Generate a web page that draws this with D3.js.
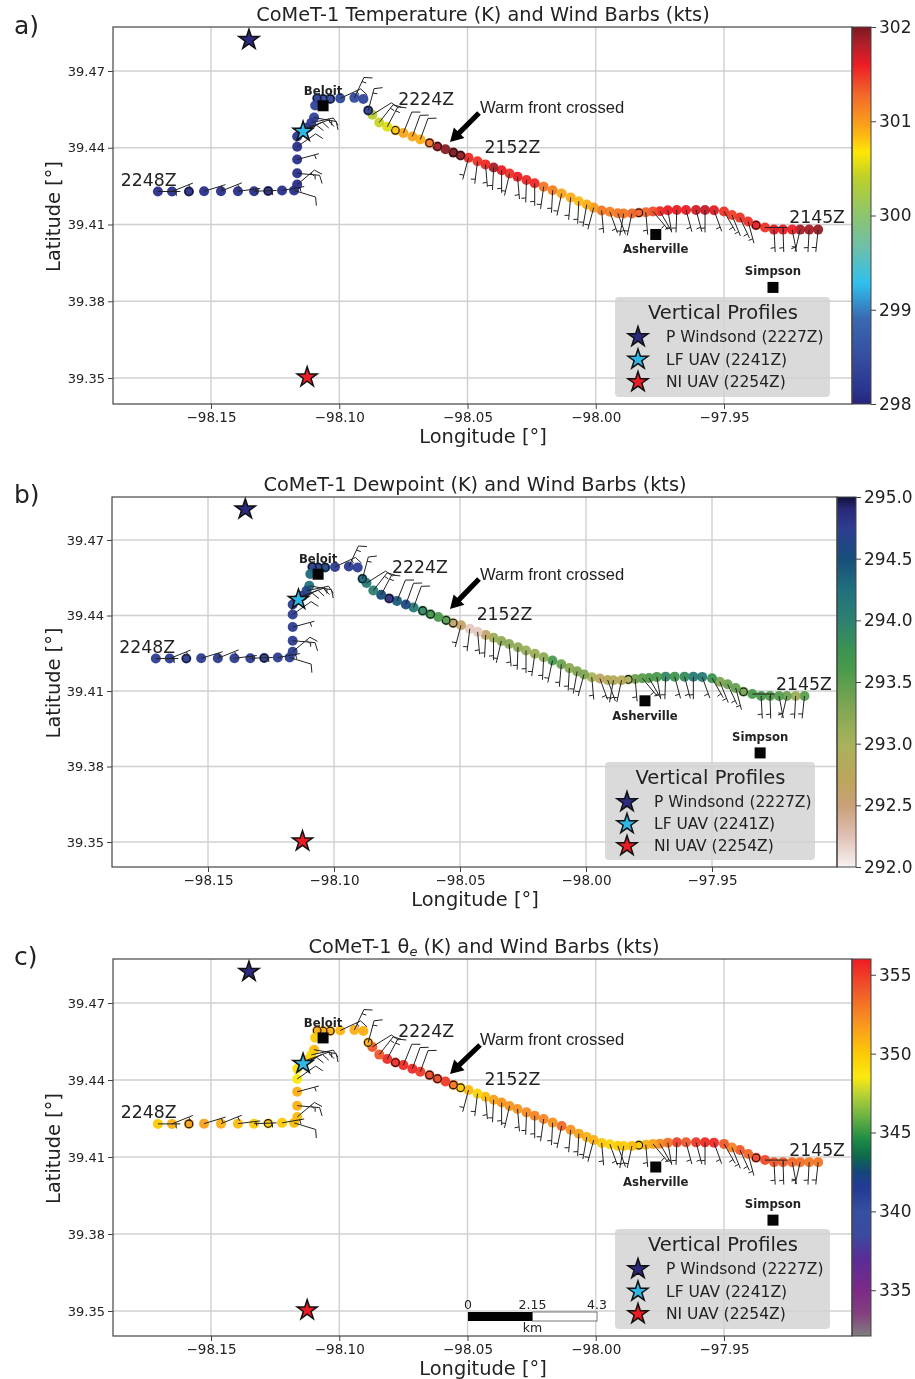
<!DOCTYPE html>
<html>
<head>
<meta charset="utf-8">
<title>CoMeT-1 transect</title>
<script src="https://cdnjs.cloudflare.com/ajax/libs/d3/7.8.5/d3.min.js"></script>
<style>
body { margin: 0; background: #fff; }
svg { display: block; filter: blur(0.35px); }
text { font-family: "DejaVu Sans", sans-serif; fill: #222; }
</style>
</head>
<body>
<div id="chart"></div>
<script>
// track, from 2145Z (east end) to 2248Z (west end)
var lon = [-97.9133,-97.9168,-97.9203,-97.9234,-97.9270,-97.9305,-97.9340,-97.9375,-97.9406,-97.9438,-97.9469,-97.9500,-97.9539,-97.9574,-97.9609,-97.9648,-97.9684,-97.9719,-97.9750,-97.9777,-97.9805,-97.9832,-97.9859,-97.9891,-97.9914,-97.9945,-97.9977,-98.0008,-98.0035,-98.0066,-98.0098,-98.0133,-98.0168,-98.0203,-98.0238,-98.0270,-98.0305,-98.0336,-98.0367,-98.0398,-98.0430,-98.0461,-98.0496,-98.0527,-98.0555,-98.0586,-98.0617,-98.0648,-98.0684,-98.0715,-98.0750,-98.0781,-98.0813,-98.0844,-98.0871,-98.0887,-98.0906,-98.0941,-98.0996,-98.1035,-98.1063,-98.1086,-98.1094,-98.1098,-98.1109,-98.1125,-98.1145,-98.1164,-98.1164,-98.1164,-98.1164,-98.1164,-98.1176,-98.1223,-98.1277,-98.1332,-98.1395,-98.1461,-98.1527,-98.1586,-98.1652,-98.1707];
var lat = [39.4080,39.4080,39.4080,39.4080,39.4080,39.4080,39.4088,39.4097,39.4112,39.4127,39.4137,39.4151,39.4156,39.4157,39.4157,39.4157,39.4157,39.4156,39.4152,39.4151,39.4148,39.4146,39.4143,39.4143,39.4144,39.4150,39.4155,39.4166,39.4178,39.4191,39.4206,39.4221,39.4234,39.4248,39.4261,39.4274,39.4287,39.4299,39.4312,39.4323,39.4335,39.4347,39.4361,39.4370,39.4381,39.4394,39.4405,39.4419,39.4432,39.4444,39.4458,39.4468,39.4482,39.4499,39.4529,39.4546,39.4591,39.4595,39.4593,39.4591,39.4591,39.4593,39.4565,39.4518,39.4498,39.4478,39.4463,39.4444,39.4404,39.4354,39.4300,39.4256,39.4233,39.4233,39.4231,39.4230,39.4230,39.4230,39.4230,39.4229,39.4229,39.4229];

var tempK = [301.9,301.85,301.85,301.6,301.6,301.65,301.5,301.6,301.5,301.5,301.45,301.5,301.65,301.75,301.7,301.6,301.6,301.6,301.55,301.4,301.3,301.3,301.3,301.2,301.2,301.15,301.2,301.0,300.9,300.85,300.9,300.95,301.15,301.2,301.55,301.55,301.6,301.5,301.6,301.85,301.55,301.5,301.55,301.9,302,301.95,301.85,301.2,300.9,300.95,300.95,300.8,300.55,300.45,300.35,298.3,298.4,298.45,298.4,298.4,298.4,298.3,298.35,298.3,298.25,298.2,298.2,298.15,298.1,298.1,298.1,298.1,298.1,298.1,298.1,298.1,298.1,298.1,298.1,298.1,298.1,298.1];
var dewK = [293.5,293.1,293.4,293.55,293.55,293.6,293.6,293.35,293.45,293.4,293.3,293.75,294.1,294.1,293.85,293.7,293.9,293.6,293.6,293.5,293.4,293.0,292.8,292.8,292.85,292.65,293.0,293.3,293.3,293.2,293.4,293.6,293.2,293.1,293.1,293.2,293.2,293.2,293.1,292.6,292.2,292.2,292.6,292.6,293.55,293.6,293.7,293.9,294.1,294.55,294.4,294.85,294.5,294.0,294.1,294.3,294.75,294.75,294.75,294.6,294.7,294.7,294.3,294.2,294.6,294.75,294.75,294.75,294.75,294.75,294.75,294.75,294.75,294.75,294.75,294.75,294.75,294.75,294.75,294.75,294.75,294.75];
var thetaE = [353,353,353.2,353.5,353.8,354,354.5,354.5,353.5,354,352.5,354,355.5,355.5,355,354,354.8,353.2,352.5,351.5,351,350,350.5,350,350,349.5,350,351,351,351.5,352,353.5,352,352.5,352.5,352.3,352,352,352,351.5,350.5,349.5,350.5,350,353,355,354.5,354.5,355,355.5,355.5,355.3,355.5,354,354,351,351,351,350.7,351,351,351,350,350.5,349.5,349.5,349,349,348.5,351,351,350.5,350.5,350,350,350,350.5,351,351.5,351.5,351,350];

// wind direction (deg, where the staff points) and speed (kts), null = no barb drawn
var windDir = [186,183,193,169,178,177,90,null,165,155,158,150,160,180,165,165,182,170,150,140,175,null,192,190,160,160,175,195,190,183,185,192,183,188,180,182,175,193,180,183,175,187,195,null,null,null,null,null,20,20,22,null,28,38,58,15,null,25,65,null,null,null,null,100,78,70,65,60,55,75,95,50,107,80,null,88,83,68,73,null,68,90];
var windKts = [5,5,5,5,5,5,5,null,5,5,5,5,5,5,5,5,5,5,5,5,5,null,5,5,5,5,5,5,5,5,5,5,5,5,5,5,5,5,5,5,5,5,5,null,null,null,null,null,10,10,10,null,15,15,10,15,null,15,15,null,null,null,null,15,15,10,10,10,10,5,15,15,10,5,null,5,5,5,5,null,5,5];

// samples with the thin black ring
var ringed = [7,21,43,44,46,47,51,55,59,60,61,74,79];

var profileNames = ["P Windsond (2227Z)", "LF UAV (2241Z)", "NI UAV (2254Z)"];
var profileLon = [-98.1352, -98.1141, -98.1125];
var profileLat = [39.4822, 39.4463, 39.3503];
var profileColor = ["#2b2a7c", "#2fb8e6", "#ed1c24"];

var siteNames = ["Beloit", "Asherville", "Simpson"];
var siteLon = [-98.1063, -97.9766, -97.9309];
var siteLat = [39.4564, 39.4061, 39.3854];
var siteDy = [-11, 19, -12];

var timeLabels = ["2224Z", "2152Z", "2145Z", "2248Z"];
var timeLon = [-98.0770, -98.0434, -97.9246, -98.1852];
var timeLat = [39.4568, 39.4381, 39.4104, 39.4252];

var lonTicks = [-98.15, -98.10, -98.05, -98.00, -97.95];
var latTicks = [39.47, 39.44, 39.41, 39.38, 39.35];

var tempStops = [298,298.15,298.5,298.9,299.28,299.67,300,300.4,300.67,300.85,301,301.3,301.6,301.8,302];
var tempColors = ["#27247a","#2a3590","#354ea0","#3a68b0","#2fc0ee","#6fbfa8","#8cc56e","#bcd02a","#fde706","#fdb814","#f99a1c","#f2642a","#ec1c24","#b51f2a","#7a1a20"];
var dewStops = [292,292.25,292.5,292.7,293,293.3,293.6,293.75,294,294.25,294.5,294.75,294.9,295];
var dewColors = ["#f7f2f2","#e0c0b4","#c9a077","#bda55c","#a9b25a","#7ea652","#4a9a4c","#3b9450","#2e8070","#20707f","#174e7a","#2d3c92","#2a2a78","#12103f"];
var thetaStops = [332.1,333.5,335,337,338.5,340,341.5,342.5,343.5,344.5,346,347.5,348.5,350,352,354,356];
var thetaColors = ["#7f7f7f","#84407f","#7c2a88","#5a2d96","#3b4aa0","#34509f","#233a96","#14467a","#0f6a4c","#1a8a44","#6bb244","#bcd433","#fbe90f","#fdca07","#f9931f","#f0592a","#ed1c24"];

var panels = [
	{ letter: "a)", letterY: 34, title: "CoMeT-1 Temperature (K) and Wind Barbs (kts)", titleX: 483, titleY: 21,
	  left: 113, right: 852, top: 27, bottom: 404, lonPx: [211, 724], latPx: [71, 378],
	  values: tempK, stops: tempStops, colors: tempColors, barX: 852, barW: 19, cbTicks: [298,299,300,301,302], cbFmt: "d",
	  warmX: 480, warmY: 113, arrow: [479, 113, 450, 142],
	  legend: { x: 615, y: 297, w: 215, h: 100, starX: 638, textX: 666 }, scaleBar: false },
	{ letter: "b)", letterY: 503, title: "CoMeT-1 Dewpoint (K) and Wind Barbs (kts)", titleX: 475, titleY: 491,
	  left: 112, right: 837, top: 497, bottom: 867, lonPx: [208, 712], latPx: [540, 842],
	  values: dewK, stops: dewStops, colors: dewColors, barX: 837, barW: 19, cbTicks: [292,292.5,293,293.5,294,294.5,295], cbFmt: ".1f",
	  warmX: 480, warmY: 580, arrow: [479, 579, 450, 609],
	  legend: { x: 605, y: 762, w: 210, h: 98, starX: 627, textX: 654 }, scaleBar: false },
	{ letter: "c)", letterY: 965, title: "CoMeT-1 θ", titleSub: "e", titleEnd: " (K) and Wind Barbs (kts)", titleX: 484, titleY: 953,
	  left: 113, right: 852, top: 959, bottom: 1336, lonPx: [211, 724], latPx: [1003, 1311],
	  values: thetaE, stops: thetaStops, colors: thetaColors, barX: 852, barW: 19, cbTicks: [335,340,345,350,355], cbFmt: "d",
	  warmX: 480, warmY: 1045, arrow: [480, 1045, 450, 1074],
	  legend: { x: 615, y: 1229, w: 215, h: 100, starX: 638, textX: 666 }, scaleBar: true }
];

var svg = d3.select("#chart").append("svg")
	.attr("width", 915)
	.attr("height", 1379);

var defs = svg.append("defs");

panels.forEach(function(p, i) { drawPanel(p, i); });

function drawPanel(p, idx) {

	var x = d3.scaleLinear().domain([lonTicks[0], lonTicks[4]]).range(p.lonPx);
	var y = d3.scaleLinear().domain([latTicks[0], latTicks[4]]).range(p.latPx);
	var color = d3.scaleLinear().domain(p.stops).range(p.colors).clamp(true);

	var g = svg.append("g").attr("class", "panel");

	g.append("text").attr("x", 14).attr("y", p.letterY).style("font-size", "25px").text(p.letter);

	var title = g.append("text").attr("x", p.titleX).attr("y", p.titleY)
		.attr("text-anchor", "middle").style("font-size", "19.3px");
	title.append("tspan").text(p.title);
	if (p.titleSub) {
		title.append("tspan").attr("dy", 3).style("font-size", "13px").style("font-style", "italic").text(p.titleSub);
		title.append("tspan").attr("dy", -3).text(p.titleEnd);
	}

	// axes + grid
	var xAxis = d3.axisBottom(x).tickValues(lonTicks).tickFormat(d3.format(".2f")).tickSize(5).tickPadding(3);
	var yAxis = d3.axisLeft(y).tickValues(latTicks).tickFormat(d3.format(".2f")).tickSize(5).tickPadding(3);

	g.append("g").selectAll("line").data(lonTicks).enter().append("line")
		.attr("x1", function(d) { return x(d); }).attr("x2", function(d) { return x(d); })
		.attr("y1", p.top).attr("y2", p.bottom)
		.attr("stroke", "#d0d0d0").attr("stroke-width", 1.4);
	g.append("g").selectAll("line").data(latTicks).enter().append("line")
		.attr("y1", function(d) { return y(d); }).attr("y2", function(d) { return y(d); })
		.attr("x1", p.left).attr("x2", p.right)
		.attr("stroke", "#d0d0d0").attr("stroke-width", 1.4);

	var xg = g.append("g").attr("transform", "translate(0," + p.bottom + ")").call(xAxis);
	var yg = g.append("g").attr("transform", "translate(" + p.left + ",0)").call(yAxis);
	xg.select(".domain").remove();
	yg.select(".domain").remove();
	xg.selectAll("text").style("font-size", "13.5px").style("font-family", "DejaVu Sans");
	yg.selectAll("text").style("font-size", "13px").style("font-family", "DejaVu Sans");
	xg.selectAll("line").attr("stroke", "#444");
	yg.selectAll("line").attr("stroke", "#444");

	g.append("text").attr("x", p.titleX === 475 ? 475 : 483).attr("y", p.bottom + 39)
		.attr("text-anchor", "middle").style("font-size", "19.4px").text("Longitude [°]");
	g.append("text").attr("transform", "translate(60," + ((p.top + p.bottom) / 2 + 1) + ") rotate(-90)")
		.attr("text-anchor", "middle").style("font-size", "19.4px").text("Latitude [°]");

	// track markers, rings go on top of their own disc
	var pts = d3.range(lon.length);
	var marks = g.append("g").selectAll("g").data(pts).enter().append("g")
		.attr("transform", function(i) { return "translate(" + x(lon[i]) + "," + y(lat[i]) + ")"; });
	marks.append("circle")
		.attr("r", 5)
		.attr("fill", function(i) { return color(p.values[i]); })
		.attr("fill-opacity", 0.95);
	marks.filter(function(i) { return ringed.indexOf(i) >= 0; }).append("circle")
		.attr("r", 3.8)
		.attr("fill", "none")
		.attr("stroke", "#111")
		.attr("stroke-width", 1.1);

	// wind barbs
	g.append("g").selectAll("path").data(pts.filter(function(i) { return windDir[i] !== null; }))
		.enter().append("path")
		.attr("d", function(i) { return barbPath(x(lon[i]), y(lat[i]), windDir[i], windKts[i]); })
		.attr("fill", "none").attr("stroke", "#222").attr("stroke-width", 1);

	// sites
	var sites = d3.range(siteNames.length);
	g.append("g").selectAll("rect").data(sites).enter().append("rect")
		.attr("x", function(i) { return x(siteLon[i]) - 5.5; })
		.attr("y", function(i) { return y(siteLat[i]) - 5.5; })
		.attr("width", 11).attr("height", 11).attr("fill", "#050505");
	g.append("g").selectAll("text").data(sites).enter().append("text")
		.attr("x", function(i) { return x(siteLon[i]); })
		.attr("y", function(i) { return y(siteLat[i]) + siteDy[i]; })
		.attr("text-anchor", "middle")
		.style("font-size", "11.7px").style("font-weight", "bold")
		.text(function(i) { return siteNames[i]; });

	// time labels
	g.append("g").selectAll("text").data(d3.range(timeLabels.length)).enter().append("text")
		.attr("x", function(i) { return x(timeLon[i]); })
		.attr("y", function(i) { return y(timeLat[i]); })
		.style("font-size", "17.3px")
		.text(function(i) { return timeLabels[i]; });

	// warm front note
	g.append("text").attr("x", p.warmX).attr("y", p.warmY)
		.style("font-family", "Liberation Sans").style("font-size", "16.6px").text("Warm front crossed");
	g.append("path").attr("d", arrowPath(p.arrow)).attr("fill", "#000");

	// profile stars
	var star = d3.symbol().type(d3.symbolStar).size(125);
	g.append("g").selectAll("path").data([0, 1, 2]).enter().append("path")
		.attr("d", star)
		.attr("transform", function(i) { return "translate(" + x(profileLon[i]) + "," + y(profileLat[i]) + ")"; })
		.attr("fill", function(i) { return profileColor[i]; })
		.attr("stroke", "#111").attr("stroke-width", 1.5);

	drawLegend(g, p.legend, star);
	if (p.scaleBar) drawScaleBar(g);
	drawColorbar(g, p, idx);

	// frame
	g.append("rect").attr("x", p.left).attr("y", p.top)
		.attr("width", p.right - p.left).attr("height", p.bottom - p.top)
		.attr("fill", "none").attr("stroke", "#444").attr("stroke-width", 1.2);
}

function barbPath(cx, cy, dir, kts) {
	var a = dir * Math.PI / 180,
		ux = Math.sin(a),
		uy = -Math.cos(a),
		px = -uy,
		py = ux,
		len = 22.5,
		spacing = 3,
		tx = cx + ux * len,
		ty = cy + uy * len;
	var d = "M" + cx + "," + cy + "L" + tx + "," + ty;
	var nFull = Math.floor(kts / 10),
		half = kts % 10 >= 5,
		off = 0;
	for (var n = 0; n < nFull; n++) {
		d += tick(off, 8, 0.4);
		off += spacing * 1.5;
	}
	if (half) {
		if (nFull === 0) off = spacing * 1.5;
		d += tick(off, 4.5, 0.1);
	}
	return d;

	function tick(o, h, lean) {
		var ax = tx - ux * o,
			ay = ty - uy * o;
		return "M" + ax + "," + ay + "L" + (ax + px * h + ux * h * lean) + "," + (ay + py * h + uy * h * lean);
	}
}

function arrowPath(a) {
	var dx = a[2] - a[0],
		dy = a[3] - a[1],
		l = Math.sqrt(dx * dx + dy * dy),
		ux = dx / l,
		uy = dy / l,
		nx = -uy,
		ny = ux,
		sw = 2.6,
		hw = 7.5,
		hl = 13;
	var bx = a[2] - ux * hl,
		by = a[3] - uy * hl;
	return "M" + (a[0] + nx * sw) + "," + (a[1] + ny * sw) +
		"L" + (bx + nx * sw) + "," + (by + ny * sw) +
		"L" + (bx + nx * hw) + "," + (by + ny * hw) +
		"L" + a[2] + "," + a[3] +
		"L" + (bx - nx * hw) + "," + (by - ny * hw) +
		"L" + (bx - nx * sw) + "," + (by - ny * sw) +
		"L" + (a[0] - nx * sw) + "," + (a[1] - ny * sw) + "Z";
}

function drawLegend(g, l, star) {
	var lg = g.append("g").attr("class", "legend");
	lg.append("rect").attr("x", l.x).attr("y", l.y).attr("width", l.w).attr("height", l.h)
		.attr("rx", 4).attr("fill", "#d3d3d3").attr("fill-opacity", 0.85);
	lg.append("text").attr("x", l.x + l.w * 0.5 + 0.5).attr("y", l.y + 22)
		.attr("text-anchor", "middle").style("font-size", "19.5px").text("Vertical Profiles");
	var rowH = l.h > 99 ? 22.5 : 22;
	lg.selectAll("path").data([0, 1, 2]).enter().append("path")
		.attr("d", star)
		.attr("transform", function(i) { return "translate(" + l.starX + "," + (l.y + 40 + i * rowH) + ")"; })
		.attr("fill", function(i) { return profileColor[i]; })
		.attr("stroke", "#111").attr("stroke-width", 1.5);
	lg.selectAll("text.row").data([0, 1, 2]).enter().append("text")
		.attr("class", "row")
		.attr("x", l.textX)
		.attr("y", function(i) { return l.y + 45 + i * rowH; })
		.style("font-size", "15.5px")
		.text(function(i) { return profileNames[i]; });
}

function drawScaleBar(g) {
	var km = d3.scaleLinear().domain([0, 4.3]).range([468, 597]);
	g.append("rect").attr("x", km(0)).attr("y", 1312).attr("width", km(2.15) - km(0)).attr("height", 9).attr("fill", "#000");
	g.append("rect").attr("x", km(2.15)).attr("y", 1312).attr("width", km(4.3) - km(2.15)).attr("height", 9)
		.attr("fill", "#fff").attr("stroke", "#555").attr("stroke-width", 0.8);
	g.append("g").selectAll("text").data([0, 2.15, 4.3]).enter().append("text")
		.attr("x", function(d) { return km(d); }).attr("y", 1309)
		.attr("text-anchor", "middle").style("font-size", "12.5px")
		.text(function(d) { return d; });
	g.append("text").attr("x", km(2.15)).attr("y", 1332).attr("text-anchor", "middle").style("font-size", "12.5px").text("km");
}

function drawColorbar(g, p, idx) {
	var lo = p.stops[0],
		hi = p.stops[p.stops.length - 1];
	var cy = d3.scaleLinear().domain([lo, hi]).range([p.bottom, p.top]);
	var id = "cb" + idx;
	var grad = defs.append("linearGradient").attr("id", id).attr("x1", 0).attr("x2", 0).attr("y1", 1).attr("y2", 0);
	grad.selectAll("stop").data(p.stops).enter().append("stop")
		.attr("offset", function(d) { return (d - lo) / (hi - lo); })
		.attr("stop-color", function(d, i) { return p.colors[i]; });
	g.append("rect").attr("x", p.barX).attr("y", p.top).attr("width", p.barW).attr("height", p.bottom - p.top)
		.attr("fill", "url(#" + id + ")").attr("stroke", "#444").attr("stroke-width", 1);
	var axis = d3.axisRight(cy).tickValues(p.cbTicks).tickFormat(d3.format(p.cbFmt)).tickSize(5).tickPadding(3);
	var ag = g.append("g").attr("transform", "translate(" + (p.barX + p.barW) + ",0)").call(axis);
	ag.select(".domain").remove();
	ag.selectAll("line").attr("stroke", "#444");
	ag.selectAll("text").style("font-size", "17px").style("font-family", "DejaVu Sans");
}
</script>
</body>
</html>
